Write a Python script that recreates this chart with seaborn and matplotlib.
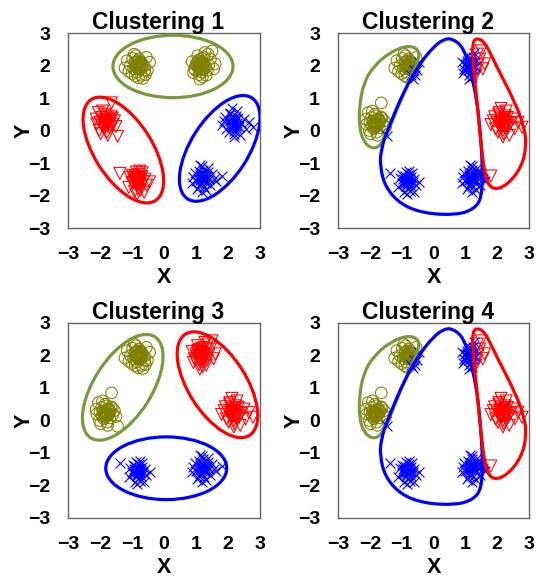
import numpy as np
import pandas as pd
import matplotlib
matplotlib.use("Agg")
import matplotlib.pyplot as plt
from matplotlib.patches import Ellipse, PathPatch
from matplotlib.path import Path
import seaborn as sns

# ---------------- point clouds (six groups, same in every panel) ----------------
a_x = [-0.82, -0.75, -0.9, -0.68, -0.95, -0.78, -1.05, -0.6, -0.85, -0.72, -1.15, -0.55, -0.88, -0.7, -1.0,
       -0.8, -0.62, -0.93, -1.22, -0.45, -0.76, -0.98, -0.66, -0.86, -0.58, -1.1, -0.74, -0.9, -0.52, -0.83,
       -0.8, -0.84, -0.78, -0.88, -0.74, -0.82, -0.9, -0.7, -0.86, -0.76]
a_y = [2.02, 1.95, 2.1, 2.05, 1.9, 2.2, 2.0, 1.85, 1.8, 2.12, 2.15, 2.25, 2.3, 1.7, 1.75,
       1.62, 1.98, 2.35, 1.92, 2.1, 1.88, 2.22, 1.6, 2.0, 1.72, 1.82, 2.08, 1.68, 1.85, 1.95,
       2.05, 1.98, 1.92, 2.08, 2.0, 2.14, 1.96, 1.94, 2.02, 2.1]

b_x = [1.15, 1.08, 1.22, 1.0, 1.3, 1.12, 0.95, 1.25, 1.18, 1.4, 1.05, 1.35, 0.88, 1.2, 1.1,
       1.45, 1.02, 1.28, 1.15, 1.55, 0.92, 1.38, 1.12, 1.24, 1.5, 1.06, 1.32, 1.18, 0.98, 1.6,
       1.15, 1.1, 1.2, 1.05, 1.18, 1.12, 1.22, 1.08, 1.16, 1.25]
b_y = [2.0, 1.92, 2.08, 2.05, 1.95, 2.18, 1.9, 2.25, 1.8, 2.02, 2.3, 1.85, 2.12, 1.65, 1.72,
       2.2, 1.98, 2.4, 2.1, 1.9, 1.78, 2.35, 1.58, 1.88, 2.45, 2.15, 1.7, 2.22, 1.85, 2.05,
       2.02, 1.95, 1.98, 2.08, 2.12, 1.85, 1.92, 2.0, 1.9, 2.05]

c_x = [-1.82, -1.9, -1.75, -2.0, -1.68, -1.85, -1.95, -1.72, -2.1, -1.6, -1.8, -1.88, -1.55, -2.05, -1.78,
       -1.92, -1.65, -1.98, -1.7, -1.84, -2.12, -1.5, -1.76, -1.94, -1.62, -1.86, -1.45, -1.64, -2.02, -1.74,
       -1.8, -1.84, -1.76, -1.88, -1.72, -1.82, -1.9, -1.78, -1.86, -1.74]
c_y = [0.22, 0.3, 0.15, 0.25, 0.28, 0.1, 0.4, 0.35, 0.2, 0.18, 0.45, 0.05, 0.3, 0.55, -0.05,
       0.6, 0.42, -0.1, 0.08, 0.5, 0.35, 0.12, -0.15, 0.15, 0.38, 0.25, -0.18, 0.85, 0.0, 0.22,
       0.2, 0.26, 0.18, 0.22, 0.3, 0.12, 0.28, 0.24, 0.16, 0.32]

d_x = [2.15, 2.08, 2.22, 2.0, 2.3, 2.12, 1.95, 2.25, 2.18, 2.4, 2.05, 2.35, 1.88, 2.2, 2.1,
       2.5, 2.02, 2.28, 2.15, 2.65, 1.92, 2.38, 2.12, 2.24, 2.55, 2.06, 2.32, 2.18, 1.8, 2.78,
       2.15, 2.2, 2.1, 2.25, 2.18, 2.12, 2.22, 2.08, 2.28, 2.16]
d_y = [0.2, 0.12, 0.28, 0.25, 0.15, 0.38, 0.05, 0.45, 0.0, 0.22, 0.5, 0.1, 0.3, -0.1, 0.32,
       0.35, -0.05, 0.6, 0.15, 0.25, 0.42, -0.15, 0.68, 0.08, 0.05, 0.55, 0.4, -0.2, 0.18, 0.1,
       0.18, 0.22, 0.26, 0.15, 0.3, 0.1, 0.35, 0.2, 0.24, 0.12]

e_x = [-0.82, -0.88, -0.75, -0.95, -0.7, -0.85, -0.78, -1.0, -0.65, -0.9, -0.8, -0.72, -1.05, -0.6, -0.86,
       -0.92, -0.76, -0.55, -1.1, -0.84, -0.68, -0.98, -0.8, -0.45, -0.9, -0.74, -1.38, -0.62, -0.96, -0.83,
       -0.8, -0.85, -0.76, -0.88, -0.82, -0.78, -0.9, -0.74, -0.84, -0.8]
e_y = [-1.55, -1.48, -1.62, -1.5, -1.42, -1.7, -1.35, -1.6, -1.58, -1.4, -1.8, -1.72, -1.45, -1.5, -1.28,
       -1.88, -1.25, -1.68, -1.75, -1.95, -1.3, -1.38, -1.65, -1.58, -1.52, -1.85, -1.32, -1.9, -1.62, -1.45,
       -1.52, -1.58, -1.5, -1.55, -1.62, -1.45, -1.6, -1.56, -1.48, -1.66]

f_x = [1.2, 1.12, 1.28, 1.05, 1.35, 1.18, 1.0, 1.3, 1.22, 1.42, 1.1, 1.38, 0.92, 1.25, 1.15,
       1.5, 1.08, 1.32, 1.2, 1.62, 0.88, 1.45, 1.14, 1.26, 1.8, 1.04, 1.36, 1.2, 0.96, 1.55,
       1.2, 1.16, 1.24, 1.12, 1.22, 1.18, 1.28, 1.14, 1.26, 1.2]
f_y = [-1.45, -1.38, -1.52, -1.5, -1.4, -1.3, -1.55, -1.6, -1.2, -1.48, -1.7, -1.28, -1.42, -1.75, -1.62,
       -1.35, -1.25, -1.82, -1.1, -1.55, -1.6, -1.68, -1.05, -1.35, -1.4, -1.8, -1.15, -1.9, -1.3, -1.5,
       -1.42, -1.48, -1.4, -1.52, -1.5, -1.36, -1.46, -1.44, -1.56, -1.38]

# cluster labels per point: o = olive circle, r = red triangle, b = blue cross
labels_1 = ["o" * 40, "o" * 40, "r" * 40, "b" * 40, "r" * 40, "b" * 40]
labels_2 = ["oooooooboo ooobooooob oobobooobo oooooooooo".replace(" ", ""),
            "bbbbbbbbbr brbbbrbbbr brbbrbrbbr bbbbbbbbbb".replace(" ", ""),
            "oooooooooo oooooooooo oooooobooo oooooooooo".replace(" ", ""),
            "r" * 40, "b" * 40,
            "bbbbbbbbbb bbbbbbbbbb bbbbrbbbbb bbbbbbbbbb".replace(" ", "")]
labels_3 = ["o" * 40, "r" * 40, "o" * 40, "r" * 40, "b" * 40, "b" * 40]
labels_4 = labels_2

titles = ["Clustering 1", "Clustering 2", "Clustering 3", "Clustering 4"]
ticks = [-3, -2, -1, 0, 1, 2, 3]

# ellipses for panels 1 and 3: centre x, centre y, width, height, angle, colour key
ell_1 = [(0.28, 1.97, 3.75, 1.92, 0, "o"), (-1.27, -0.6, 3.7, 1.8, -57, "r"), (1.74, -0.55, 3.7, 1.8, 57, "b")]
ell_3 = [(-1.29, 1.02, 3.7, 1.8, 57, "o"), (1.67, 1.1, 3.7, 1.8, -57, "r"), (0.07, -1.47, 3.78, 1.93, 0, "b")]

# free-hand outlines for panels 2 and 4 (control points)
olive_line_x = [-0.47, -0.8, -1.35, -1.88, -2.2, -2.33, -2.33, -2.2, -1.93, -1.66, -1.42, -0.9, -0.45]
olive_line_y = [2.5, 2.62, 2.42, 1.98, 1.45, 0.74, 0.1, -0.34, -0.57, -0.47, -0.03, 1.26, 2.2]
blue_line_x = [0.58, 0.95, 1.18, 1.36, 1.47, 1.54, 1.52, 1.26, 0.7, -0.3, -1.04, -1.52, -1.68, -1.65,
               -1.44, -0.91, -0.4, 0.0, 0.3]
blue_line_y = [2.84, 2.55, 1.75, 0.95, -0.08, -1.1, -2.07, -2.43, -2.6, -2.55, -2.27, -1.73, -1.1, -0.59,
               0.03, 1.26, 2.1, 2.57, 2.8]
red_line_x = [1.36, 1.62, 1.98, 2.52, 2.85, 2.92, 2.76, 2.33, 1.88, 1.64, 1.51, 1.36, 1.23, 1.23]
red_line_y = [2.85, 2.72, 1.97, 0.95, 0.13, -0.49, -1.13, -1.67, -1.84, -1.52, -0.59, 0.95, 2.18, 2.72]

colors = {"o": "#808000", "r": "#ff0000", "b": "#0000ff"}
line_colors = {"o": "#7a9a3c", "r": "#ff0000", "b": "#0000ff"}
markers = {"o": "o", "r": "v", "b": "x"}
sizes = {"o": 70, "r": 75, "b": 50}


def build_frame(labels):
    xs = [a_x, b_x, c_x, d_x, e_x, f_x]
    ys = [a_y, b_y, c_y, d_y, e_y, f_y]
    rows = []
    for gx, gy, lab in zip(xs, ys, labels):
        assert len(gx) == len(gy) == len(lab)
        for x, y, l in zip(gx, gy, lab):
            rows.append((x, y, l))
    return pd.DataFrame(rows, columns=["x", "y", "label"])


def smooth_outline(ax, xs, ys, color):
    pts = np.column_stack([xs, ys])
    mids = (pts + np.roll(pts, -1, axis=0)) / 2
    verts = [mids[-1]]
    codes = [Path.MOVETO]
    for i in range(len(pts)):
        verts += [pts[i], mids[i]]
        codes += [Path.CURVE3, Path.CURVE3]
    ax.add_patch(PathPatch(Path(verts, codes), fill=False, ec=color, lw=2.3, zorder=3))


def draw_panel(ax, labels, title):
    df = build_frame(labels)
    for key in ["o", "r", "b"]:
        sub = df[df.label == key]
        if key == "b":
            sns.scatterplot(data=sub, x="x", y="y", ax=ax, marker="x", color=colors[key],
                            s=sizes[key], linewidth=0.8, legend=False, zorder=2)
        else:
            sns.scatterplot(data=sub, x="x", y="y", ax=ax, marker=markers[key], color=colors[key],
                            facecolor="none", edgecolor=colors[key], s=sizes[key],
                            linewidth=0.75, legend=False, zorder=2)
    ax.set_xlim(-3, 3)
    ax.set_ylim(-3, 3)
    ax.set_xticks(ticks)
    ax.set_yticks(ticks)
    ax.tick_params(direction="in", length=2.5, width=0.8, color="#666666", pad=13,
                   labelcolor="black", labelsize=14)
    for lab in ax.get_xticklabels() + ax.get_yticklabels():
        lab.set_fontweight("bold")
    for sp in ax.spines.values():
        sp.set_color("#666666")
        sp.set_linewidth(1.0)
    ax.set_xlabel("X", fontweight="bold", fontsize=15.5, labelpad=3, color="black")
    ax.set_ylabel("Y", fontweight="bold", fontsize=15.5, labelpad=-5, color="black")
    ax.set_title(title, fontweight="bold", fontsize=16.5, pad=3, x=0.47, color="black")


sns.set_theme(style="white")
plt.rcParams["font.family"] = ["Liberation Sans", "DejaVu Sans"]
plt.rcParams["text.color"] = "black"

fig = plt.figure(figsize=(5.36, 5.79), dpi=100)
ax1 = fig.add_axes([0.1269, 0.6062, 0.3582, 0.3368])
ax2 = fig.add_axes([0.6306, 0.6062, 0.3564, 0.3368])
ax3 = fig.add_axes([0.1269, 0.1054, 0.3582, 0.3368])
ax4 = fig.add_axes([0.6306, 0.1054, 0.3564, 0.3368])

for ax, labs, t in zip([ax1, ax2, ax3, ax4], [labels_1, labels_2, labels_3, labels_4], titles):
    draw_panel(ax, labs, t)

for ax, ells in [(ax1, ell_1), (ax3, ell_3)]:
    for cx, cy, w, h, ang, key in ells:
        ax.add_patch(Ellipse((cx, cy), w, h, angle=ang, fill=False, ec=line_colors[key], lw=2.3, zorder=3))

for ax in [ax2, ax4]:
    smooth_outline(ax, olive_line_x, olive_line_y, line_colors["o"])
    smooth_outline(ax, blue_line_x, blue_line_y, line_colors["b"])
    smooth_outline(ax, red_line_x, red_line_y, line_colors["r"])

fig.savefig("out.png", dpi=100)
